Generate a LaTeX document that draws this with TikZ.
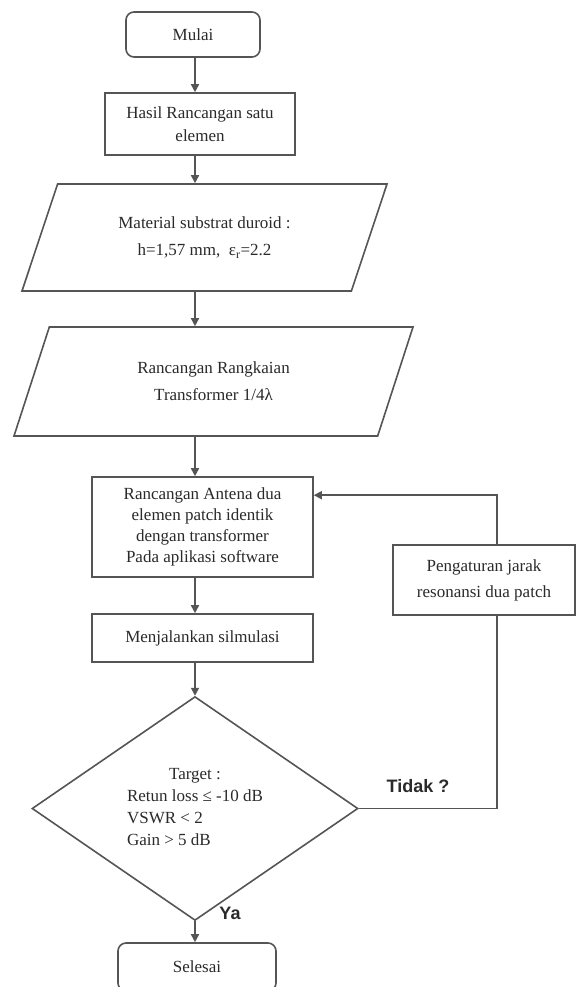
\documentclass[tikz,border=0pt]{standalone}
\usepackage{fontspec}
\setmainfont{Liberation Serif}
\newfontfamily\labelfont{Liberation Sans}
\usetikzlibrary{shapes.geometric,arrows.meta}

\definecolor{garis}{HTML}{555555}
\definecolor{tulisan}{HTML}{2A2A2A}

\tikzset{
  box/.style={draw=garis, rectangle, inner sep=0pt, align=center, text=tulisan},
  term/.style={box, rounded corners=8pt},
  data/.style={draw=garis, trapezium, trapezium stretches body, inner sep=0pt,
    align=center, text=tulisan},
  decide/.style={draw=garis, diamond, inner sep=0pt, text=tulisan},
  flow/.style={draw=garis, -{Triangle[length=8pt,width=8pt]}},
  jalur/.style={draw=garis},
  lbl/.style={text=tulisan, font={\labelfont\bfseries\fontsize{18}{20}\selectfont}}
}

\begin{document}
\begin{tikzpicture}[x=1pt,y=-1pt,line width=1.6pt,
  font=\fontsize{17}{21}\selectfont]
  \clip (0,0) rectangle (576,987);
  \fill[white] (0,0) rectangle (576,987);

  % kolom utama
  \coordinate (spine) at (195,0);
  \coordinate (rel) at (497,0);

  \node[term, minimum width=134, minimum height=45] (mulai) at (193,34.5) {Mulai};
  \node[box, minimum width=190, minimum height=62] (hasil) at (200,124)
    {Hasil Rancangan satu\\[2pt]elemen};
  \node[data, minimum width=365, minimum height=107,
    trapezium left angle=49.3, trapezium right angle=130.7] (bahan) at (204.5,237.5)
    {Material substrat duroid :\\[6pt]h=1,57 mm,\ \ ε\textsubscript{r}=2.2};
  \node[data, minimum width=399, minimum height=109,
    trapezium left angle=47.8, trapezium right angle=132.2] (trafo) at (213.5,381.5)
    {Rancangan Rangkaian\\[6pt]Transformer 1/4λ};
  \node[box, minimum width=221, minimum height=100] (antena) at (202.5,527)
    {Rancangan Antena dua\\elemen patch identik\\dengan transformer\\Pada aplikasi software};
  \node[box, minimum width=182, minimum height=70] (atur) at (484,580)
    {Pengaturan jarak\\[5pt]resonansi dua patch};
  \node[box, minimum width=221, minimum height=48] (jalan) at (202.5,638)
    {Menjalankan silmulasi};
  \node[decide, minimum width=326, minimum height=193] (cek) at (195,808.5)
    {\fontsize{17}{22}\selectfont
     \begin{tabular}{@{}l@{}}
       \multicolumn{1}{@{}c@{}}{Target :}\\
       Retun loss ≤ -10 dB\\
       VSWR < 2\\
       Gain > 5 dB
     \end{tabular}};
  \node[term, minimum width=158, minimum height=48] (selesai) at (197,967) {Selesai};

  \coordinate (masuk) at ([yshift=-19pt]antena.north east);

  % panah
  \draw[flow] (mulai.south -| spine) -- (hasil.north -| spine);
  \draw[flow] (hasil.south -| spine) -- (bahan.north -| spine);
  \draw[flow] (bahan.south -| spine) -- (trafo.north -| spine);
  \draw[flow] (trafo.south -| spine) -- (antena.north -| spine);
  \draw[flow] (antena.south -| spine) -- (jalan.north -| spine);
  \draw[flow] (jalan.south -| spine) -- (cek.north);
  \draw[flow] (cek.south) -- (selesai.north -| cek.south);

  % umpan balik
  \draw[jalur] (cek.east) -- (cek.east -| rel) -- (atur.south -| rel);
  \draw[flow] (atur.north -| rel) |- (masuk);

  \node[lbl] (tidak) at (418,786) {Tidak ?};
  \node[lbl] (ya) at (230,913) {Ya};
\end{tikzpicture}
\end{document}
